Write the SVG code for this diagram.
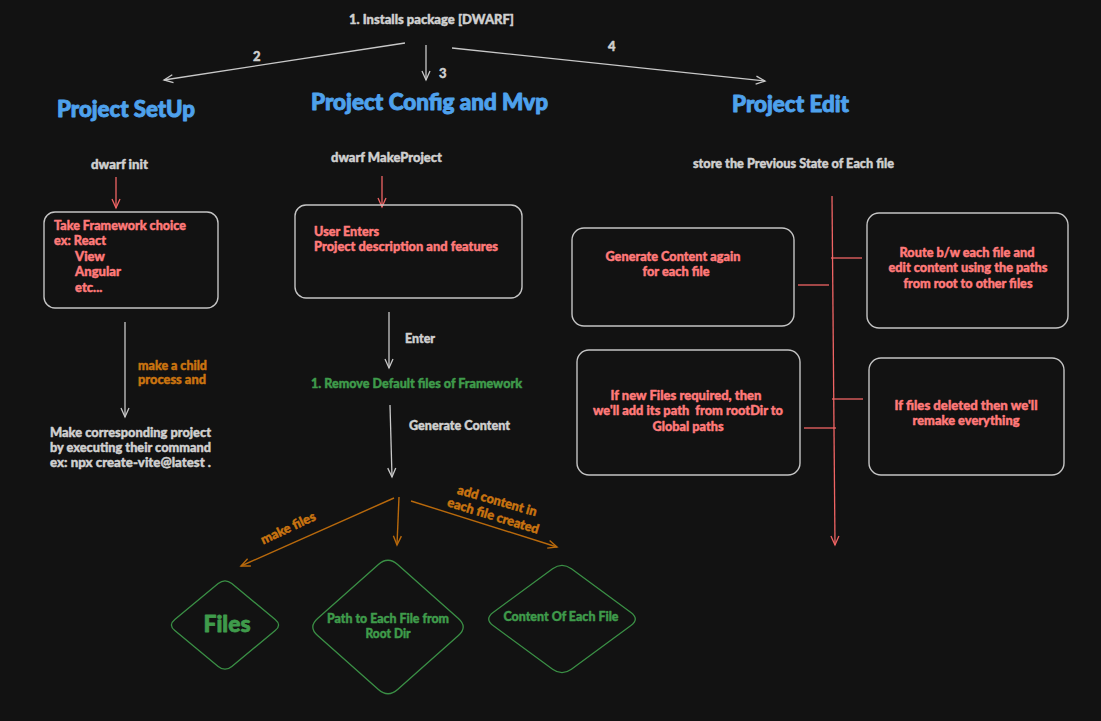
<svg xmlns="http://www.w3.org/2000/svg" width="1101" height="721" viewBox="0 0 1101 721">
<defs>
<style>
text{font-family:Lato,"Liberation Sans",sans-serif;font-weight:900;font-size:13px;stroke-width:0.45px;stroke-linejoin:round}
.g{fill:#cfcfcf;stroke:#cfcfcf}
.r{fill:#ff7a7a;stroke:#ff7a7a}
.o{fill:#c97410;stroke:#c97410}
.gr{fill:#3f9b4b;stroke:#3f9b4b}
.t{fill:#4ea1ec;stroke:#4ea1ec;stroke-width:0.9px;font-size:22px;font-weight:900}
.m{text-anchor:middle}
.box{fill:none;stroke:#c4c4c4;stroke-width:1.4}
.dia{fill:none;stroke:#3a8f45;stroke-width:1.3}
.lg{stroke:#c8c8c8;stroke-width:1.3;fill:none}
.lr{stroke:#f06464;stroke-width:1.3;fill:none}
.lo{stroke:#b8690c;stroke-width:1.4;fill:none}
</style>
<marker id="ag" markerWidth="12" markerHeight="12" refX="10" refY="5" orient="auto" markerUnits="userSpaceOnUse"><path d="M1,1 L10,5 L1,9" fill="none" stroke="#c8c8c8" stroke-width="1.3"/></marker>
<marker id="ar" markerWidth="12" markerHeight="12" refX="10" refY="5" orient="auto" markerUnits="userSpaceOnUse"><path d="M1,1 L10,5 L1,9" fill="none" stroke="#f06464" stroke-width="1.3"/></marker>
<marker id="ao" markerWidth="12" markerHeight="12" refX="10" refY="5" orient="auto" markerUnits="userSpaceOnUse"><path d="M1,1 L10,5 L1,9" fill="none" stroke="#b8690c" stroke-width="1.4"/></marker>
</defs>
<rect width="1101" height="721" fill="#121212"/>

<g id="connectors">
<line class="lg" x1="405" y1="43" x2="164" y2="80" marker-end="url(#ag)"/>
<line class="lg" x1="426" y1="45" x2="426" y2="80" marker-end="url(#ag)"/>
<line class="lg" x1="452" y1="48" x2="765" y2="81" marker-end="url(#ag)"/>
<line class="lr" x1="116" y1="177" x2="116" y2="208" marker-end="url(#ar)"/>
<line class="lg" x1="125" y1="322" x2="125" y2="417" marker-end="url(#ag)"/>
<line class="lr" x1="382" y1="176" x2="382" y2="207" marker-end="url(#ar)"/>
<line class="lg" x1="389" y1="312" x2="389" y2="368" marker-end="url(#ag)"/>
<line class="lg" x1="390" y1="405" x2="392" y2="477" marker-end="url(#ag)"/>
<line class="lo" x1="394" y1="498" x2="241" y2="566" marker-end="url(#ao)"/>
<line class="lo" x1="399" y1="497" x2="397" y2="545" marker-end="url(#ao)"/>
<line class="lo" x1="411" y1="501" x2="557" y2="547" marker-end="url(#ao)"/>
<line class="lr" x1="832" y1="196" x2="835" y2="545" marker-end="url(#ar)"/>
<line class="lr" x1="798" y1="285" x2="829" y2="285"/>
<line class="lr" x1="831" y1="258" x2="862" y2="258"/>
<line class="lr" x1="804" y1="428" x2="836" y2="428"/>
<line class="lr" x1="832" y1="399" x2="863" y2="399"/>
</g>

<g id="labels">
<text class="g" x="349" y="24" textLength="165" lengthAdjust="spacingAndGlyphs">1. Installs package [DWARF]</text>
<text class="g" x="253" y="61">2</text>
<text class="g" x="439" y="78">3</text>
<text class="g" x="608" y="51">4</text>
<text class="o" x="138" y="370" textLength="69" lengthAdjust="spacingAndGlyphs">make a child</text>
<text class="o" x="138" y="384" textLength="68" lengthAdjust="spacingAndGlyphs">process and</text>
<text class="g" x="405" y="343" textLength="30" lengthAdjust="spacingAndGlyphs">Enter</text>
<text class="g" x="409" y="430" textLength="101" lengthAdjust="spacingAndGlyphs">Generate Content</text>
<text class="o m" transform="translate(290,532) rotate(-25)" textLength="59" lengthAdjust="spacingAndGlyphs">make files</text>
<text class="o m" transform="translate(496,505) rotate(16)" textLength="82" lengthAdjust="spacingAndGlyphs">add content in</text>
<text class="o m" transform="translate(492,520) rotate(17)" textLength="95" lengthAdjust="spacingAndGlyphs">each file created</text>
</g>

<g id="title-setup"><text class="t" x="57" y="117" textLength="138" lengthAdjust="spacingAndGlyphs">Project SetUp</text></g>
<g id="title-config"><text class="t" x="311" y="110" textLength="237" lengthAdjust="spacingAndGlyphs">Project Config and Mvp</text></g>
<g id="title-edit"><text class="t" x="732" y="112" textLength="117" lengthAdjust="spacingAndGlyphs">Project Edit</text></g>

<g id="dwarf-init"><text class="g" x="91" y="169" textLength="57" lengthAdjust="spacingAndGlyphs">dwarf init</text></g>
<g id="framework-box">
<rect class="box" x="44" y="212" width="174" height="96" rx="11"/>
<text class="r" x="54" y="230" textLength="132" lengthAdjust="spacingAndGlyphs">Take Framework choice</text>
<text class="r" x="54" y="245" textLength="52" lengthAdjust="spacingAndGlyphs">ex: React</text>
<text class="r" x="75" y="261">View</text>
<text class="r" x="75" y="276" textLength="46" lengthAdjust="spacingAndGlyphs">Angular</text>
<text class="r" x="75" y="292">etc...</text>
</g>
<g id="make-project-text">
<text class="g" x="50" y="437" textLength="161" lengthAdjust="spacingAndGlyphs">Make corresponding project</text>
<text class="g" x="50" y="452" textLength="161" lengthAdjust="spacingAndGlyphs">by executing their command</text>
<text class="g" x="50" y="467" textLength="161" lengthAdjust="spacingAndGlyphs">ex: npx create-vite@latest .</text>
</g>

<g id="dwarf-makeproject"><text class="g" x="331" y="162" textLength="111" lengthAdjust="spacingAndGlyphs">dwarf MakeProject</text></g>
<g id="user-enters-box">
<rect class="box" x="295" y="205" width="227" height="93" rx="11"/>
<text class="r" x="314" y="236" textLength="65" lengthAdjust="spacingAndGlyphs">User Enters</text>
<text class="r" x="314" y="251" textLength="184" lengthAdjust="spacingAndGlyphs">Project description and features</text>
</g>
<g id="remove-default"><text class="gr" x="311" y="388" textLength="211" lengthAdjust="spacingAndGlyphs">1. Remove Default files of Framework</text></g>

<g id="files">
<path class="dia" d="M231.8,583.6 L275.2,619.4 Q282,625 275.2,630.6 L231.8,666.4 Q225,672 218.2,666.4 L174.8,630.6 Q168,625 174.8,619.4 L218.2,583.6 Q225,578 231.8,583.6 Z"/>
<text class="gr m" x="227" y="632" style="font-size:23px;stroke-width:0.8px" textLength="47" lengthAdjust="spacingAndGlyphs">Files</text>
</g>
<g id="path-each-file">
<path class="dia" d="M397.6,564.5 L458.4,618.5 Q468,627 458.4,635.5 L397.6,689.5 Q388,698 378.4,689.5 L317.6,635.5 Q308,627 317.6,618.5 L378.4,564.5 Q388,556 397.6,564.5 Z"/>
<text class="gr m" x="388" y="623" textLength="122" lengthAdjust="spacingAndGlyphs">Path to Each File from</text>
<text class="gr m" x="388" y="638" textLength="45" lengthAdjust="spacingAndGlyphs">Root Dir</text>
</g>
<g id="content-each-file">
<path class="dia" d="M571.4,568.8 L630.6,612.2 Q640,619 630.6,625.8 L571.4,669.2 Q562,676 552.6,669.2 L493.4,625.8 Q484,619 493.4,612.2 L552.6,568.8 Q562,562 571.4,568.8 Z"/>
<text class="gr m" x="561" y="621" textLength="115" lengthAdjust="spacingAndGlyphs">Content Of Each File</text>
</g>

<g id="store-state"><text class="g" x="693" y="168" textLength="201" lengthAdjust="spacingAndGlyphs">store the Previous State of Each file</text></g>
<g id="generate-again">
<rect class="box" x="572" y="228" width="222" height="98" rx="12"/>
<text class="r m" x="673" y="261" textLength="135" lengthAdjust="spacingAndGlyphs">Generate Content again</text>
<text class="r m" x="676" y="276" textLength="67" lengthAdjust="spacingAndGlyphs">for each file</text>
</g>
<g id="route-box">
<rect class="box" x="867" y="213" width="201" height="115" rx="12"/>
<text class="r m" x="967" y="257" textLength="135" lengthAdjust="spacingAndGlyphs">Route b/w each file and</text>
<text class="r m" x="968" y="272" textLength="159" lengthAdjust="spacingAndGlyphs">edit content using the paths</text>
<text class="r m" x="968" y="288" textLength="129" lengthAdjust="spacingAndGlyphs">from root to other files</text>
</g>
<g id="new-files-box">
<rect class="box" x="577" y="350" width="223" height="125" rx="12"/>
<text class="r m" x="686" y="400" textLength="151" lengthAdjust="spacingAndGlyphs">If new Files required, then</text>
<text class="r m" x="688" y="415" textLength="190" lengthAdjust="spacingAndGlyphs" xml:space="preserve">we'll add its path  from rootDir to</text>
<text class="r m" x="688" y="431" textLength="71" lengthAdjust="spacingAndGlyphs">Global paths</text>
</g>
<g id="deleted-box">
<rect class="box" x="869" y="358" width="195" height="117" rx="12"/>
<text class="r m" x="966" y="410" textLength="143" lengthAdjust="spacingAndGlyphs">If files deleted then we'll</text>
<text class="r m" x="966" y="425" textLength="107" lengthAdjust="spacingAndGlyphs">remake everything</text>
</g>
</svg>
